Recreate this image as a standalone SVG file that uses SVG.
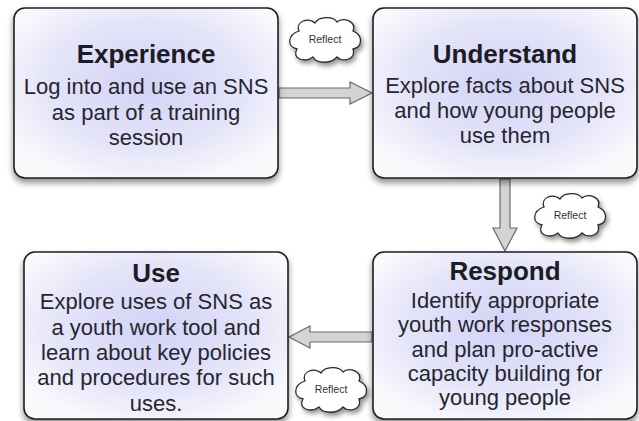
<svg xmlns="http://www.w3.org/2000/svg" width="639" height="421" viewBox="0 0 639 421">
<defs>
  <radialGradient id="boxFill" cx="0.5" cy="0.45" r="0.62">
    <stop offset="0" stop-color="#d2d2f6"/>
    <stop offset="0.6" stop-color="#e4e4f9"/>
    <stop offset="1" stop-color="#fafafd"/>
  </radialGradient>
  <filter id="shadow" x="-10%" y="-10%" width="120%" height="130%">
    <feDropShadow dx="0" dy="4" stdDeviation="3" flood-color="#000" flood-opacity="0.45"/>
  </filter>
  <filter id="cloudShadow" x="-20%" y="-20%" width="150%" height="160%">
    <feDropShadow dx="2" dy="3" stdDeviation="2.5" flood-color="#000" flood-opacity="0.45"/>
  </filter>
  <path id="cloudShape" d="M12 16 C8 6 22 2 28 8 C32 1 46 1 50 7 C56 2 70 6 66 16 C76 20 76 32 66 34 C70 44 56 48 50 42 C44 49 30 49 26 42 C18 48 4 44 10 34 C0 32 0 20 12 16 Z"/>
</defs>
<style>
  .box { fill: url(#boxFill); stroke: #1e1e24; stroke-width: 1.6; filter: url(#shadow); }
  .title { font-family: "Liberation Sans", Arial, sans-serif; font-weight: bold; font-size: 26px; fill: #1c1c24; text-anchor: middle; }
  .body { font-family: "Liberation Sans", Arial, sans-serif; font-size: 22px; fill: #26262e; text-anchor: middle; }
  .cloud { fill: #ffffff; stroke: #2a2a2a; stroke-width: 1.3; filter: url(#cloudShadow); }
  .cloudText { font-family: "Liberation Sans", Arial, sans-serif; font-size: 10.5px; fill: #333; text-anchor: middle; }
  .arrow { fill: #d4d4d4; stroke: #6a6a6a; stroke-width: 1.2; stroke-linejoin: miter; }
</style>

<g id="connectors">
  <path class="arrow" d="M279 88 H350 V82 L372 93 L350 104 V98 H279 Z"/>
  <path class="arrow" d="M500 179 V228 H493 L505 251 L517 228 H510 V179 Z"/>
  <path class="arrow" d="M372 332 H310 V326 L289 337 L310 348 V342 H372 Z"/>
</g>

<g id="experience">
  <rect class="box" x="14" y="8" width="264" height="170" rx="11"/>
  <text class="title" x="146" y="63">Experience</text>
  <text class="body" x="146" y="94">Log into and use an SNS</text>
  <text class="body" x="146" y="120">as part of a training</text>
  <text class="body" x="146" y="145">session</text>
</g>

<g id="understand">
  <rect class="box" x="373" y="8" width="264" height="170" rx="11"/>
  <text class="title" x="505" y="63">Understand</text>
  <text class="body" x="505" y="93">Explore facts about SNS</text>
  <text class="body" x="505" y="118">and how young people</text>
  <text class="body" x="505" y="143">use them</text>
</g>

<g id="use">
  <rect class="box" x="24" y="252" width="264" height="167" rx="11"/>
  <text class="title" x="156" y="282">Use</text>
  <text class="body" x="156" y="309">Explore uses of SNS as</text>
  <text class="body" x="156" y="335">a youth work tool and</text>
  <text class="body" x="156" y="360">learn about key policies</text>
  <text class="body" x="156" y="385">and procedures for such</text>
  <text class="body" x="156" y="411">uses.</text>
</g>

<g id="respond">
  <rect class="box" x="373" y="252" width="264" height="167" rx="11"/>
  <text class="title" x="505" y="280">Respond</text>
  <text class="body" x="505" y="308">Identify appropriate</text>
  <text class="body" x="505" y="332">youth work responses</text>
  <text class="body" x="505" y="357">and plan pro-active</text>
  <text class="body" x="505" y="381">capacity building for</text>
  <text class="body" x="505" y="405">young people</text>
</g>

<g id="reflect1">
  <use href="#cloudShape" class="cloud" transform="translate(287,15)"/>
  <text class="cloudText" x="325" y="43">Reflect</text>
</g>
<g id="reflect2">
  <use href="#cloudShape" class="cloud" transform="translate(532,191)"/>
  <text class="cloudText" x="570" y="219">Reflect</text>
</g>
<g id="reflect3">
  <use href="#cloudShape" class="cloud" transform="translate(293,365)"/>
  <text class="cloudText" x="331" y="393">Reflect</text>
</g>
</svg>
